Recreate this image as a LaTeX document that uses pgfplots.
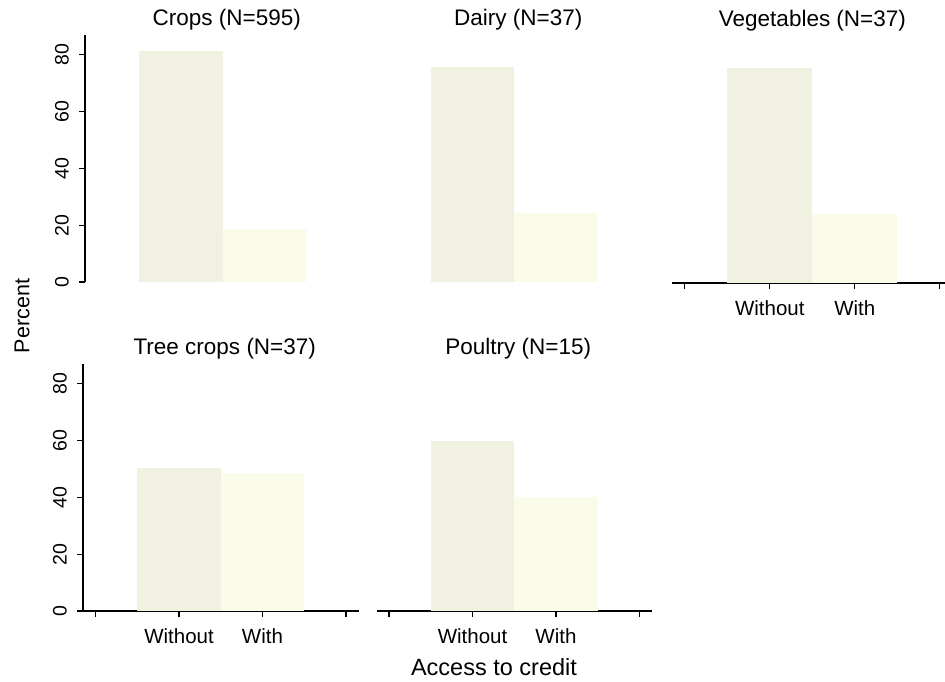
\documentclass[border=0pt]{standalone}
\usepackage{fontspec}
\setmainfont{Liberation Sans}
\usepackage{pgfplots}
\pgfplotsset{compat=1.18}
\definecolor{cw}{RGB}{241,241,225}
\definecolor{cwi}{RGB}{251,251,233}
\pgfplotsset{
  panel/.style={
    scale only axis, anchor=south west,
    height=247pt, width=275.5pt,
    ymin=0, ymax=87, xmin=-0.15, xmax=3.15,
    xtick={0,1,2,3}, xticklabels={,Without,With,},
    ytick={0,20,40,60,80},
    axis x line=bottom, axis y line=left,
    axis line style={line width=1.6pt,-},
    every outer x axis line/.append style={-},
    every outer y axis line/.append style={-},
    ytick pos=left, xtick pos=bottom,
    tick align=outside, major tick length=6pt,
    every tick/.style={black, line width=1.1pt},
    /pgf/number format/assume math mode=true,
    xticklabel style={font=\fontsize{20.5}{24}\selectfont, inner sep=0pt, anchor=north, yshift=-11pt},
    yticklabel style={font=\fontsize{19.5}{23}\selectfont, xshift=-10pt, rotate=90, anchor=south, inner sep=0pt},
    title style={font=\fontsize{22.5}{26}\selectfont, anchor=base, yshift=3.5pt, xshift=4pt},
  },
  wo/.style={ybar, bar width=1, bar shift=0pt, fill=cw, draw=none},
  wi/.style={ybar, bar width=1, bar shift=0pt, fill=cwi, draw=none},
}
\begin{document}
\begin{tikzpicture}
\useasboundingbox (0,0) rectangle (945pt,681pt);
% Crops
\begin{axis}[panel, at={(85pt,399pt)}, hide x axis, title={Crops (N=595)}]
\addplot[wo] coordinates {(1,81.3)};
\addplot[wi] coordinates {(2,18.7)};
\end{axis}
% Dairy
\begin{axis}[panel, at={(376.5pt,399pt)}, hide x axis, hide y axis, title={Dairy (N=37)}]
\addplot[wo] coordinates {(1,75.7)};
\addplot[wi] coordinates {(2,24.3)};
\end{axis}
% Vegetables
\begin{axis}[panel, at={(672pt,398pt)}, width=272.85pt, xmax=3.06, hide y axis, title={Vegetables (N=37)}]
\addplot[wo] coordinates {(1,75.7)};
\addplot[wi] coordinates {(2,24.3)};
\end{axis}
% Tree crops
\begin{axis}[panel, at={(83pt,70pt)}, title={Tree crops (N=37)}]
\addplot[wo] coordinates {(1,50.5)};
\addplot[wi] coordinates {(2,48.6)};
\end{axis}
% Poultry
\begin{axis}[panel, at={(376.5pt,70pt)}, hide y axis, title={Poultry (N=15)}]
\addplot[wo] coordinates {(1,60)};
\addplot[wi] coordinates {(2,40)};
\end{axis}
\node[rotate=90, font=\fontsize{21.5}{25}\selectfont] at (22pt,365pt) {Percent};
\node[anchor=base, font=\fontsize{23.5}{28}\selectfont] at (494pt,6pt) {Access to credit};
\end{tikzpicture}
\end{document}
